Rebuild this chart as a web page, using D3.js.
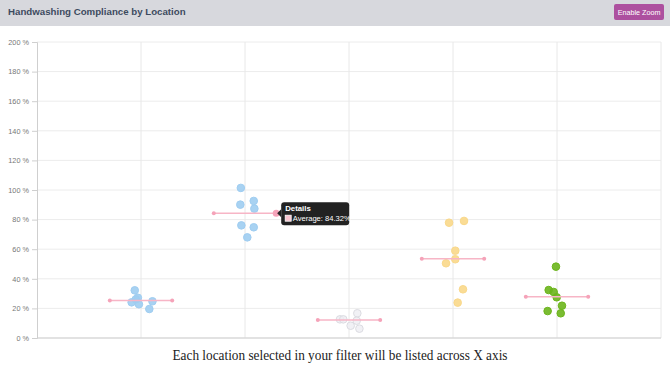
<!DOCTYPE html>
<html>
<head>
<meta charset="utf-8">
<script src="https://cdn.jsdelivr.net/npm/d3@7"></script>
<style>
  body { margin: 0; background: #fff; font-family: "Liberation Sans", Arial, sans-serif; }
  #chart { width: 670px; height: 370px; position: relative; }
</style>
</head>
<body>
<div id="chart"></div>
<script>
// locations on the x axis (labels are hidden in the original)
var locations = ["Location 1", "Location 2", "Location 3", "Location 4", "Location 5"];
var colors = ["#9fcdf1", "#9fcdf1", "#eeeef2", "#f9d88a", "#6cb51c"];
var strokes = ["#9fcdf1", "#9fcdf1", "#dcdce2", "#f9d88a", "#6cb51c"];

// jittered x position of each observation, and its compliance %
var xs = [
  [0.94, 0.97, 0.95, 0.91, 0.98, 1.11, 1.08],
  [1.96, 1.955, 2.084, 2.09, 1.965, 2.084, 2.022],
  [2.913, 2.945, 3.08, 3.074, 3.016, 3.1],
  [3.962, 4.106, 4.022, 4.022, 3.933, 4.096, 4.045],
  [4.99, 4.92, 4.968, 4.997, 5.048, 4.91, 5.036]
];
var ys = [
  [32.2, 27.2, 26.1, 24.1, 22.8, 24.8, 19.6],
  [101.4, 90.1, 92.6, 87.4, 76.1, 74.8, 68.0],
  [12.6, 12.6, 16.7, 11.7, 8.3, 6.3],
  [77.9, 79.1, 59.0, 53.2, 50.5, 32.9, 23.9],
  [48.2, 32.4, 31.1, 27.5, 21.8, 18.2, 16.7]
];
var averages = [25.3, 84.32, 12.2, 53.6, 27.9];
var yTicks = [0, 20, 40, 60, 80, 100, 120, 140, 160, 180, 200];

var width = 670, height = 370;
var margin = {top: 42, right: 9, bottom: 32, left: 37};

var svg = d3.select("#chart").append("svg")
  .attr("width", width)
  .attr("height", height);

// header bar
svg.append("rect").attr("x", 0).attr("y", 0).attr("width", width).attr("height", 26).attr("fill", "#d7d8dd");
svg.append("text").attr("x", 8).attr("y", 15)
  .attr("font-size", 9.7).attr("font-weight", "bold").attr("fill", "#3d4b60")
  .text("Handwashing Compliance by Location");
svg.append("rect").attr("x", 614).attr("y", 4).attr("width", 50).attr("height", 16).attr("rx", 2).attr("fill", "#ad509f");
svg.append("text").attr("x", 639).attr("y", 14.5).attr("text-anchor", "middle")
  .attr("font-size", 7.2).attr("fill", "#fff").text("Enable Zoom");

var x = d3.scaleLinear().domain([0, 6]).range([margin.left, width - margin.right]);
var y = d3.scaleLinear().domain([0, 200]).range([height - margin.bottom, margin.top]);

// grid
var g = svg.append("g");
g.selectAll(".hgrid").data(yTicks).enter().append("line")
  .attr("x1", x(0)).attr("x2", x(6))
  .attr("y1", d => y(d)).attr("y2", d => y(d))
  .attr("stroke", "#ececec").attr("stroke-width", 1);
g.selectAll(".vgrid").data(d3.range(1, 7)).enter().append("line")
  .attr("x1", d => x(d)).attr("x2", d => x(d))
  .attr("y1", y(200)).attr("y2", y(0))
  .attr("stroke", "#e8e8e8").attr("stroke-width", 1);

// y axis
var yAxis = svg.append("g")
  .attr("transform", "translate(" + margin.left + ",0)")
  .call(d3.axisLeft(y).tickValues(yTicks).tickSize(5).tickPadding(3).tickFormat(d => d + " %"));
yAxis.select(".domain").attr("stroke", "#cfcfcf");
yAxis.selectAll(".tick line").attr("stroke", "#cfcfcf");
yAxis.selectAll(".tick text").attr("fill", "#777").attr("font-size", 7.3).attr("font-family", "Liberation Sans, Arial, sans-serif");

// x axis line
svg.append("line").attr("x1", x(0)).attr("x2", x(6)).attr("y1", y(0)).attr("y2", y(0))
  .attr("stroke", "#cfcfcf");

// points
locations.forEach(function(loc, i) {
  var pts = xs[i].map((v, j) => ({x: v, y: ys[i][j]}));
  svg.append("g").selectAll("circle").data(pts).enter().append("circle")
    .attr("cx", d => x(d.x)).attr("cy", d => y(d.y)).attr("r", 3.8)
    .attr("fill", colors[i]).attr("fill-opacity", i == 2 ? 0.8 : 0.9)
    .attr("stroke", strokes[i]).attr("stroke-width", 1);
});

// average lines
var avg = svg.append("g");
averages.forEach(function(a, i) {
  var c = i + 1;
  avg.append("line").attr("x1", x(c - 0.3)).attr("x2", x(c + 0.3))
    .attr("y1", y(a)).attr("y2", y(a))
    .attr("stroke", "#f7b5c6").attr("stroke-width", 1.5);
  avg.append("circle").attr("cx", x(c - 0.3)).attr("cy", y(a)).attr("r", 2).attr("fill", "#f5a3b9");
  avg.append("circle").attr("cx", x(c + 0.3)).attr("cy", y(a)).attr("r", i == 1 ? 3.5 : 2).attr("fill", "#f5a3b9");
});

// tooltip for the hovered average
var tx = x(2.3), ty = y(averages[1]);
var tip = svg.append("g").attr("transform", "translate(" + tx + "," + (ty - 11) + ")");
tip.append("path").attr("d", "M1,11 L5,7 L5,15 Z").attr("fill", "#222");
tip.append("rect").attr("x", 5).attr("y", 0).attr("width", 68).attr("height", 23).attr("rx", 3).attr("fill", "#222");
tip.append("text").attr("x", 9).attr("y", 9).attr("font-size", 7.8).attr("font-weight", "bold").attr("fill", "#fff").text("Details");
tip.append("rect").attr("x", 9).attr("y", 13).attr("width", 6).attr("height", 6).attr("fill", "#f9c5d1").attr("stroke", "#fff").attr("stroke-width", 0.8);
tip.append("text").attr("x", 16.5).attr("y", 19).attr("font-size", 7.6).attr("fill", "#fff")
  .text("Average: " + d3.format(".2f")(averages[1]) + "%");

// caption
svg.append("text").attr("x", 340).attr("y", 360).attr("text-anchor", "middle")
  .attr("font-family", "Liberation Serif, serif").attr("font-size", 14).attr("fill", "#222")
  .attr("textLength", 335).attr("lengthAdjust", "spacingAndGlyphs")
  .text("Each location selected in your filter will be listed across X axis");
</script>
</body>
</html>
